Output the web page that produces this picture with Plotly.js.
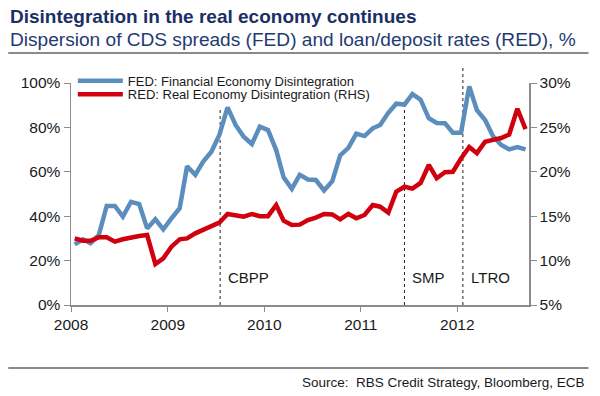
<!DOCTYPE html>
<html>
<head>
<meta charset="utf-8">
<script src="https://cdn.plot.ly/plotly-3.0.1.min.js"></script>
<style>html,body{margin:0;padding:0;background:#fff}#chart{width:600px;height:396px}</style>
</head>
<body>
<div id="chart"></div>
<script>
// Monthly observations (mid-month), Jan 2008 - Sep 2012
const months = [
 '2008-01-15','2008-02-15','2008-03-15','2008-04-15','2008-05-15','2008-06-15','2008-07-15','2008-08-15','2008-09-15','2008-10-15','2008-11-15','2008-12-15',
 '2009-01-15','2009-02-15','2009-03-15','2009-04-15','2009-05-15','2009-06-15','2009-07-15','2009-08-15','2009-09-15','2009-10-15','2009-11-15','2009-12-15',
 '2010-01-15','2010-02-15','2010-03-15','2010-04-15','2010-05-15','2010-06-15','2010-07-15','2010-08-15','2010-09-15','2010-10-15','2010-11-15','2010-12-15',
 '2011-01-15','2011-02-15','2011-03-15','2011-04-15','2011-05-15','2011-06-15','2011-07-15','2011-08-15','2011-09-15','2011-10-15','2011-11-15','2011-12-15',
 '2012-01-15','2012-02-15','2012-03-15','2012-04-15','2012-05-15','2012-06-15','2012-07-15','2012-08-15','2012-09-15'
];
// FED: Financial Economy Disintegration (left axis, %)
const fed = [
 27.3,29.6,27.8,31.5,44.6,44.6,39.8,46.5,45.5,34.5,38.6,34.1,
 39.0,43.6,62.5,58.6,64.6,69.0,76.6,89.0,81.0,75.8,72.5,80.3,
 78.8,69.8,57.5,52.3,58.6,56.5,56.3,51.6,55.8,67.4,70.8,77.2,
 76.1,79.6,81.1,86.6,90.7,90.3,95.0,92.5,84.1,82.0,81.9,77.6,
 77.6,98.5,87.8,83.3,76.0,72.1,70.1,71.1,70.1
];
// RED: Real Economy Disintegration (right axis, %)
const red = [
 12.50,12.24,12.24,12.62,12.62,12.13,12.40,12.62,12.77,12.88,9.62,10.26,
 11.57,12.40,12.50,13.07,13.45,13.80,14.27,15.25,15.10,14.95,15.25,15.00,
 15.00,16.26,14.50,14.00,14.05,14.57,14.85,15.25,15.20,14.65,15.25,14.76,
 15.14,16.26,16.07,15.40,17.76,18.32,18.10,18.75,20.77,19.27,19.95,20.00,
 21.50,22.80,22.10,23.39,23.60,23.80,24.20,27.10,24.80
];
const seriesNames = ['FED: Financial Economy Disintegration','RED: Real Economy Disintegration (RHS)'];
const yearTicks = ['2008-01-01','2009-01-01','2010-01-01','2011-01-01','2012-01-01'];
const yearLabels = ['2008','2009','2010','2011','2012'];
const eventNames = ['CBPP','SMP','LTRO'];
const eventDates = ['2009-07-18','2011-06-15','2012-01-22'];

const font = 'Liberation Sans, Arial, sans-serif';
const axisCol = '#8c8c8c';
const eventTop = [0.89, 0.905, 1.075];

const traces = [
 {x: months, y: fed, name: seriesNames[0], type: 'scatter', mode: 'lines',
  line: {color: '#5b8dbd', width: 4.5}, yaxis: 'y', legend: 'legend'},
 {x: months, y: red, name: seriesNames[1], type: 'scatter', mode: 'lines',
  line: {color: '#d0000e', width: 4.5}, yaxis: 'y2', legend: 'legend2'}
];

const shapes = eventDates.map((d, i) => ({
 type: 'line', xref: 'x', yref: 'paper', x0: d, x1: d, y0: 0, y1: eventTop[i],
 line: {color: '#222', width: 1, dash: 'dot'}, layer: 'below'
}));
shapes.push({type: 'line', xref: 'paper', yref: 'paper', x0: -0.137, x1: 1.13, y0: 1.135, y1: 1.135,
 line: {color: '#8a8a8a', width: 2}});
shapes.push({type: 'line', xref: 'paper', yref: 'paper', x0: -0.137, x1: 1.13, y0: -0.284, y1: -0.284,
 line: {color: '#8a8a8a', width: 2}});

const annotations = eventNames.map((n, i) => ({
 x: eventDates[i], xref: 'x', y: 0.125, yref: 'paper', text: n, showarrow: false,
 xanchor: 'left', yanchor: 'middle', xshift: 6, font: {family: font, size: 15, color: '#1a1a1a'}
}));
annotations.push({x: -0.137, xref: 'paper', y: 1.299, yref: 'paper', xanchor: 'left', yanchor: 'middle',
 text: '<b>Disintegration in the real economy continues</b>', showarrow: false,
 font: {family: font, size: 19, color: '#1b2f66'}});
annotations.push({x: -0.137, xref: 'paper', y: 1.198, yref: 'paper', xanchor: 'left', yanchor: 'middle',
 text: 'Dispersion of CDS spreads (FED) and loan/deposit rates (RED), %', showarrow: false,
 font: {family: font, size: 19.1, color: '#1f3a72'}});
annotations.push({x: 1.127, xref: 'paper', y: -0.347, yref: 'paper', xanchor: 'right', yanchor: 'middle',
 text: 'Source:  RBS Credit Strategy, Bloomberg, ECB', showarrow: false,
 font: {family: font, size: 13.5, color: '#1a1a1a'}});

const legendBase = {xanchor: 'left', yanchor: 'top', bgcolor: 'rgba(0,0,0,0)', borderwidth: 0,
 font: {family: font, size: 13, color: '#1a1a1a'}, itemwidth: 45};

const layout = {
 width: 600, height: 396,
 margin: {l: 71, r: 71, t: 83, b: 91, pad: 0},
 paper_bgcolor: '#fff', plot_bgcolor: '#fff',
 font: {family: font, color: '#222'},
 showlegend: true,
 legend: Object.assign({}, legendBase, {x: 0.004, y: 1.077}),
 legend2: Object.assign({}, legendBase, {x: 0.004, y: 1.0165}),
 xaxis: {type: 'date', range: ['2008-01-01', '2012-09-28'], tickvals: yearTicks, ticktext: yearLabels,
  ticks: 'outside', ticklen: 5, tickcolor: axisCol, showline: true, linecolor: axisCol, linewidth: 1.5,
  showgrid: false, zeroline: false, tickfont: {family: font, size: 15.5, color: '#1a1a1a'}},
 yaxis: {range: [0, 100], dtick: 20, ticksuffix: '%', ticks: 'outside', ticklen: 6, tickcolor: axisCol,
  showline: true, linecolor: axisCol, linewidth: 1.5, showgrid: false, zeroline: false,
  tickfont: {family: font, size: 15.5, color: '#1a1a1a'}},
 yaxis2: {range: [5, 30], dtick: 5, ticksuffix: '%', overlaying: 'y', side: 'right', ticks: 'outside',
  ticklen: 6, tickcolor: axisCol, showline: true, linecolor: axisCol, linewidth: 1.5, showgrid: false,
  zeroline: false, tickfont: {family: font, size: 15.5, color: '#1a1a1a'}},
 shapes: shapes,
 annotations: annotations
};

Plotly.newPlot('chart', traces, layout, {displayModeBar: false, staticPlot: true});
</script>
</body>
</html>
